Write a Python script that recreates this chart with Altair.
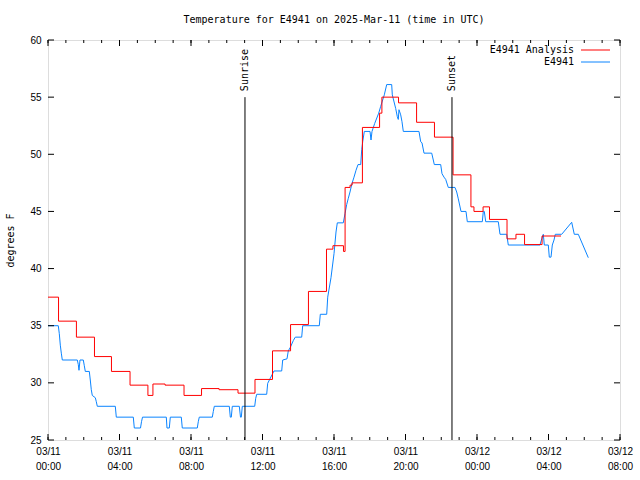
import altair as alt
import pandas as pd

FONT = "DejaVu Sans Mono"
W, H = 572, 400

# Analysis (red): hour of change, new value
analysis_hours = [0.00, 0.59, 1.59, 2.60, 3.55, 4.59, 5.59, 5.87, 6.55, 7.61, 8.59, 9.57,
                  10.63, 11.58, 12.56, 13.57, 14.57, 15.58, 15.94, 16.53, 16.62, 16.90,
                  17.01, 17.59, 18.55, 18.68, 19.61, 20.62, 21.62, 22.66, 23.66, 23.83,
                  24.34, 24.70, 25.68, 26.18, 26.66, 27.64, 28.70]
analysis_temps = [37.5, 35.4, 34.0, 32.3, 31.0, 29.8, 28.9, 29.9, 29.8, 28.9, 29.5, 29.4,
                  29.1, 30.3, 32.8, 35.1, 38.0, 41.7, 42.0, 41.5, 47.1, 47.3,
                  47.5, 52.35, 53.6, 55.0, 54.5, 52.8, 51.5, 48.2, 45.4, 45.0,
                  45.4, 44.3, 42.6, 43.0, 42.1, 42.85, 42.85]

# Observations (blue)
obs_hours = [0.000, 0.576, 0.632, 0.688, 0.744, 0.800, 1.639, 1.695, 1.734, 1.790, 1.975,
             2.031, 2.087, 2.311, 2.366, 2.422, 2.478, 2.646, 2.702, 2.758, 3.765, 3.821,
             4.772, 4.828, 5.175, 5.231, 5.287, 6.618, 6.657, 6.786, 6.842, 7.457, 7.513,
             8.352, 8.408, 8.464, 9.192, 9.248, 9.304, 10.143, 10.199, 10.255, 10.311,
             10.702, 10.769, 10.814, 10.870, 11.564, 11.620, 11.676, 12.235, 12.291,
             12.548, 12.643, 13.074, 13.130, 13.371, 13.443, 13.555, 13.723, 13.835,
             14.193, 14.249, 15.178, 15.234, 15.592, 15.648, 15.832, 16.000, 16.112,
             16.185, 16.520, 16.615, 16.710, 16.800, 16.895, 17.007, 17.119, 17.231,
             17.343, 17.494, 17.550, 17.606, 17.695, 18.014, 18.070, 18.126, 18.277,
             18.501, 18.613, 18.814, 18.948, 19.228, 19.262, 19.452, 19.541, 19.597,
             19.636, 19.731, 19.804, 19.877, 20.755, 20.850, 20.923, 21.035, 21.466,
             21.555, 21.611, 21.969, 22.042, 22.154, 22.249, 22.394, 22.769, 22.865,
             22.954, 23.105, 23.385, 23.458, 24.297, 24.353, 24.409, 24.487, 25.192,
             25.287, 25.662, 25.751, 27.524, 27.620, 27.709, 27.765, 27.989, 28.045,
             28.140, 28.213, 28.308, 28.381, 28.739, 29.298, 29.443, 29.667, 30.227]
obs_temps = [35.0, 35.0, 34.3, 33.3, 32.6, 32.0, 32.0, 31.6, 31.1, 32.0, 32.0,
             31.5, 31.0, 31.0, 30.25, 29.4, 28.9, 28.7, 28.35, 27.95, 27.95, 27.0,
             27.0, 26.05, 26.05, 26.6, 27.0, 27.0, 26.05, 26.05, 27.0, 27.0, 26.05,
             26.05, 26.6, 27.0, 27.0, 27.5, 27.95, 27.95, 27.0, 27.0, 27.95,
             27.95, 27.0, 27.0, 27.95, 27.95, 28.65, 29.0, 29.0, 29.96,
             30.75, 31.04, 31.04, 32.0, 32.1, 32.8, 33.1, 33.7, 34.0,
             34.0, 35.0, 35.0, 36.0, 36.0, 37.5, 39.2, 41.3, 43.2,
             44.0, 44.0, 44.8, 45.6, 46.15, 46.7, 47.45, 48.0, 48.6,
             49.1, 49.1, 50.4, 51.1, 52.0, 52.0, 51.25, 52.0, 52.7,
             53.6, 54.2, 55.2, 56.1, 56.1, 55.2, 54.0, 53.3, 53.05,
             53.9, 53.45, 52.85, 52.0, 52.0, 51.1, 51.0, 50.1, 50.1,
             49.5, 49.1, 49.1, 48.3, 48.0, 47.8, 47.1, 47.1, 46.7,
             46.1, 45.0, 45.0, 44.1, 44.1, 45.0, 45.0, 44.1, 44.1,
             43.0, 43.0, 42.06, 42.06, 42.6, 43.0, 42.06, 42.06, 41.0,
             41.0, 42.06, 42.5, 43.0, 43.0, 44.05, 43.0, 43.0, 40.95]

event_names = ["Sunrise", "Sunset"]
event_hours = [11.02, 22.60]
event_top = [55, 55]

x_major = list(range(0, 33, 4))
x_minor = list(range(0, 33))
y_major = list(range(25, 61, 5))

title_text = "Temperature for E4941 on 2025-Mar-11 (time in UTC)"

xs = alt.Scale(domain=[0, 32], nice=False, zero=False)
ys = alt.Scale(domain=[25, 60], nice=False, zero=False)

x_axis = alt.Axis(values=x_major, title=None, grid=False, ticks=False, domain=False,
                  labelExpr="[datum.value < 24 ? '03/11' : '03/12', "
                            "(datum.value % 24 < 10 ? '0' : '') + (datum.value % 24) + ':00']",
                  labelFlush=False, labelOverlap=False, labelBaseline="top",
                  labelPadding=6, labelLineHeight=15)
y_axis = alt.Axis(values=y_major, title="degrees F", grid=False, ticks=False, domain=False,
                  labelPadding=7, labelFlush=False, labelOverlap=False,
                  titleX=-38, titleY=200, titleAngle=270, titleAlign="center",
                  titleBaseline="middle", titleFontWeight="normal", titleFont=FONT,
                  titleFontSize=10)

X = alt.X("h:Q", scale=xs, axis=x_axis)
Y = alt.Y("t:Q", scale=ys, axis=y_axis)

an_df = pd.DataFrame({"h": analysis_hours, "t": analysis_temps})
ob_df = pd.DataFrame({"h": obs_hours, "t": obs_temps})
ev_df = pd.DataFrame({"h": event_hours, "t": event_top, "name": event_names})
xmaj_df = pd.DataFrame({"h": x_major})
xmin_df = pd.DataFrame({"h": x_minor})
ymaj_df = pd.DataFrame({"t": y_major})

obs_line = alt.Chart(ob_df).mark_line(color="#0a84ff", strokeWidth=1).encode(x=X, y=Y)
an_line = alt.Chart(an_df).mark_line(color="#ff0000", strokeWidth=1,
                                     interpolate="step-after").encode(x=X, y=Y)

ev_rule = alt.Chart(ev_df).mark_rule(color="black", strokeWidth=1).encode(
    x=X, y=Y, y2=alt.datum(25))
ev_text = alt.Chart(ev_df).mark_text(angle=270, align="left", baseline="middle", dx=6,
                                     font=FONT, fontSize=10, color="black").encode(
    x=X, y=Y, text="name:N")

def xticks(df, length):
    bottom = alt.Chart(df).mark_rule(color="black", strokeWidth=1).encode(
        x=X, y=alt.value(H), y2=alt.value(H - length))
    top = alt.Chart(df).mark_rule(color="black", strokeWidth=1).encode(
        x=X, y=alt.value(0), y2=alt.value(length))
    return bottom + top

yt_left = alt.Chart(ymaj_df).mark_rule(color="black", strokeWidth=1).encode(
    y=Y, x=alt.value(0), x2=alt.value(6))
yt_right = alt.Chart(ymaj_df).mark_rule(color="black", strokeWidth=1).encode(
    y=Y, x=alt.value(W - 6), x2=alt.value(W))

leg_t1 = alt.Chart().mark_text(text="E4941 Analysis", align="right", baseline="middle",
                               font=FONT, fontSize=10, color="black").encode(
    x=alt.value(526), y=alt.value(10))
leg_t2 = alt.Chart().mark_text(text="E4941", align="right", baseline="middle",
                               font=FONT, fontSize=10, color="black").encode(
    x=alt.value(526), y=alt.value(22))
leg_r1 = alt.Chart().mark_rule(color="#ff0000", strokeWidth=1).encode(
    x=alt.value(533), x2=alt.value(562), y=alt.value(10))
leg_r2 = alt.Chart().mark_rule(color="#0a84ff", strokeWidth=1).encode(
    x=alt.value(533), x2=alt.value(562), y=alt.value(22))

chart = alt.layer(
    obs_line, an_line, ev_rule, ev_text,
    xticks(xmin_df, 3), xticks(xmaj_df, 6), yt_left, yt_right,
    leg_t1, leg_t2, leg_r1, leg_r2,
).properties(
    width=W, height=H,
    title=alt.TitleParams(title_text, font=FONT, fontSize=10, fontWeight="normal",
                          anchor="middle", frame="group", offset=10, color="black"),
    autosize=alt.AutoSizeParams(type="none"),
    padding={"left": 48, "top": 40, "right": 20, "bottom": 40},
).configure_view(
    stroke="black", strokeWidth=1
).configure_axis(
    labelFont=FONT, titleFont=FONT, labelFontSize=10, titleFontSize=10,
    titleFontWeight="normal", labelColor="black", titleColor="black"
).configure(background="white")

chart.save("out.html", embed_options={"renderer": "svg", "actions": False})
